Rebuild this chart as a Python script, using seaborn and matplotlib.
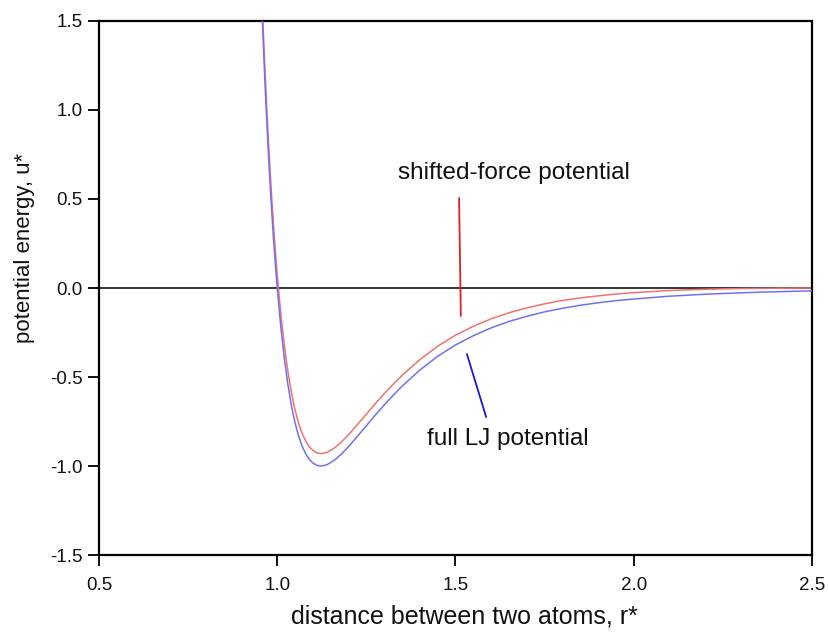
import matplotlib
matplotlib.use("Agg")
import matplotlib.pyplot as plt
import seaborn as sns
import pandas as pd

# distance r* (reduced units)
r_star = [0.95, 0.955, 0.96, 0.965, 0.97, 0.975, 0.98, 0.985, 0.99, 0.995,
          1.00, 1.01, 1.02, 1.03, 1.04, 1.05, 1.06, 1.07, 1.08, 1.09, 1.10,
          1.11, 1.12, 1.13, 1.14, 1.16, 1.18, 1.20, 1.225, 1.25, 1.275, 1.30, 1.325, 1.35, 1.40, 1.45,
          1.50, 1.55, 1.60, 1.65, 1.70, 1.75, 1.80, 1.85, 1.90, 1.95, 2.00, 2.10, 2.20, 2.30, 2.40, 2.50]

# full LJ potential u*
u_full_lj = [1.961, 1.678, 1.418, 1.181, 0.963, 0.764, 0.582, 0.416, 0.264, 0.126,
             0.000, -0.218, -0.398, -0.544, -0.663, -0.758, -0.832, -0.889, -0.932, -0.963, -0.983,
             -0.995, -1.000, -0.998, -0.992, -0.968, -0.933, -0.891, -0.833, -0.774, -0.714, -0.657, -0.603, -0.552, -0.461, -0.384,
             -0.320, -0.268, -0.224, -0.188, -0.159, -0.134, -0.114, -0.097, -0.083, -0.071, -0.062, -0.046, -0.035, -0.027, -0.021, -0.016]

# shifted-force potential u*
u_shifted_force = [2.038, 1.755, 1.494, 1.257, 1.039, 0.840, 0.658, 0.491, 0.339, 0.201,
                   0.075, -0.144, -0.324, -0.470, -0.590, -0.685, -0.760, -0.817, -0.860, -0.892, -0.912,
                   -0.925, -0.930, -0.928, -0.923, -0.899, -0.865, -0.824, -0.767, -0.709, -0.650, -0.594, -0.541, -0.491, -0.402, -0.327,
                   -0.265, -0.215, -0.173, -0.139, -0.112, -0.089, -0.070, -0.056, -0.044, -0.034, -0.026, -0.014, -0.007, -0.003, -0.001, 0.000]

x_ticks = [0.5, 1.0, 1.5, 2.0, 2.5]
y_ticks = [-1.5, -1.0, -0.5, 0.0, 0.5, 1.0, 1.5]

label_sf = "shifted-force potential"
label_lj = "full LJ potential"

sns.set_style("ticks")
plt.rcParams["font.family"] = ["Liberation Sans", "DejaVu Sans"]

fig = plt.figure(figsize=(8.29, 6.32), dpi=100)
ax = fig.add_axes([0.1194, 0.1218, 0.8601, 0.845])

df_sf = pd.DataFrame({"r": r_star, "u": u_shifted_force})
df_lj = pd.DataFrame({"r": r_star, "u": u_full_lj})

ax.axhline(0.0, color="black", lw=1.1, zorder=1)
sns.lineplot(data=df_lj, x="r", y="u", ax=ax, color="#7070f0", lw=1.1, sort=False, zorder=3)
sns.lineplot(data=df_sf, x="r", y="u", ax=ax, color="#f07272", lw=1.1, sort=False, zorder=2)

# leader lines for the annotations
ax.plot([1.510, 1.515], [0.506, -0.157], color="#e02020", lw=1.3)
ax.plot([1.532, 1.586], [-0.371, -0.725], color="#1a1ad0", lw=1.3)

ax.text(1.664, 0.645, label_sf, ha="center", va="center", fontsize=17.5, color="#111111")
ax.text(1.647, -0.85, label_lj, ha="center", va="center", fontsize=17.5, color="#111111")

ax.set_xlim(0.5, 2.5)
ax.set_ylim(-1.5, 1.5)
ax.set_xticks(x_ticks)
ax.set_yticks(y_ticks)
ax.set_xticklabels([f"{v:.1f}" for v in x_ticks])
ax.set_yticklabels([f"{v:.1f}" for v in y_ticks])
ax.tick_params(direction="out", length=8, width=1.4, labelsize=13.5, colors="#111111")
ax.tick_params(axis="x", pad=8)
ax.tick_params(axis="y", pad=4)

for s in ax.spines.values():
    s.set_visible(True)
    s.set_linewidth(1.6)
    s.set_color("black")

ax.set_xlabel("distance between two atoms, r*", fontsize=18, color="#111111")
ax.set_ylabel("potential energy, u*", fontsize=16, color="#111111")
ax.xaxis.set_label_coords(0.513, -0.116)
ax.yaxis.set_label_coords(-0.104, 0.575)
ax.xaxis.label.set_va("center")
ax.yaxis.label.set_va("center")

fig.savefig("out.png", dpi=100)
